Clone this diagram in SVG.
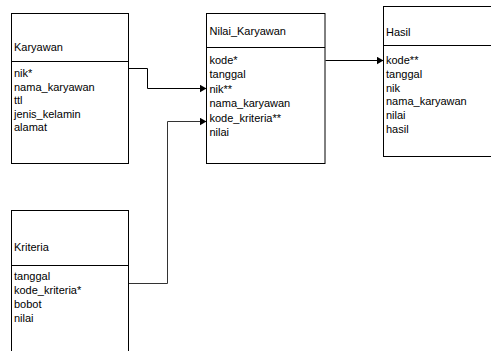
<svg xmlns="http://www.w3.org/2000/svg" width="491" height="351" viewBox="0 0 491 351">
<style>
.box{fill:#fff;stroke:#000;stroke-width:1}
.div{stroke:#000;stroke-width:1}
text{font-family:"Liberation Sans",Arial,sans-serif;font-size:11px;fill:#000}
.con{fill:none;stroke:#000;stroke-width:1}
.con2{fill:none;stroke:#333;stroke-width:1}
</style>
<defs>
<marker id="arr" markerWidth="7" markerHeight="8" refX="7" refY="4" orient="auto" markerUnits="userSpaceOnUse">
<path d="M0,0 L7,4 L0,8 Z" fill="#000"/>
</marker>
</defs>
<g id="connectors">
<path class="con" d="M128.5,68.5 H147.5 V88.5 H206.5" marker-end="url(#arr)"/>
<path class="con2" d="M128.5,283.5 H167.5 V121.5 H206.5" marker-end="url(#arr)"/>
<path class="con" d="M325.5,60.5 H383.5" marker-end="url(#arr)"/>
</g>
<g id="karyawan">
<rect class="box" x="11.5" y="13.5" width="117" height="150"/>
<line class="div" x1="11.5" y1="61.5" x2="128.5" y2="61.5"/>
<text x="14" y="50.5">Karyawan</text>
<text x="14" y="77">nik*</text>
<text x="14" y="90.5">nama_karyawan</text>
<text x="14" y="104">ttl</text>
<text x="14" y="117.5">jenis_kelamin</text>
<text x="14" y="131">alamat</text>
</g>
<g id="nilai_karyawan">
<rect class="box" x="206.5" y="13.5" width="118.5" height="150"/>
<line class="div" x1="206.5" y1="47.5" x2="325" y2="47.5"/>
<text x="209.5" y="34.5">Nilai_Karyawan</text>
<text x="209.5" y="64">kode*</text>
<text x="209.5" y="78.4">tanggal</text>
<text x="209.5" y="92.8">nik**</text>
<text x="209.5" y="107.2">nama_karyawan</text>
<text x="209.5" y="121.6">kode_kriteria**</text>
<text x="209.5" y="136">nilai</text>
</g>
<g id="hasil">
<rect class="box" x="383.5" y="6.5" width="120" height="150"/>
<line class="div" x1="383.5" y1="45.5" x2="503.5" y2="45.5"/>
<text x="386" y="35.5">Hasil</text>
<text x="386" y="64">kode**</text>
<text x="386" y="77.8">tanggal</text>
<text x="386" y="91.6">nik</text>
<text x="386" y="105.4">nama_karyawan</text>
<text x="386" y="119.2">nilai</text>
<text x="386" y="133">hasil</text>
</g>
<g id="kriteria">
<rect class="box" x="11.5" y="210.5" width="117" height="150"/>
<line class="div" x1="11.5" y1="265.5" x2="128.5" y2="265.5"/>
<text x="14" y="251">Kriteria</text>
<text x="14" y="280">tanggal</text>
<text x="14" y="294">kode_kriteria*</text>
<text x="14" y="308">bobot</text>
<text x="14" y="322">nilai</text>
</g>
</svg>
